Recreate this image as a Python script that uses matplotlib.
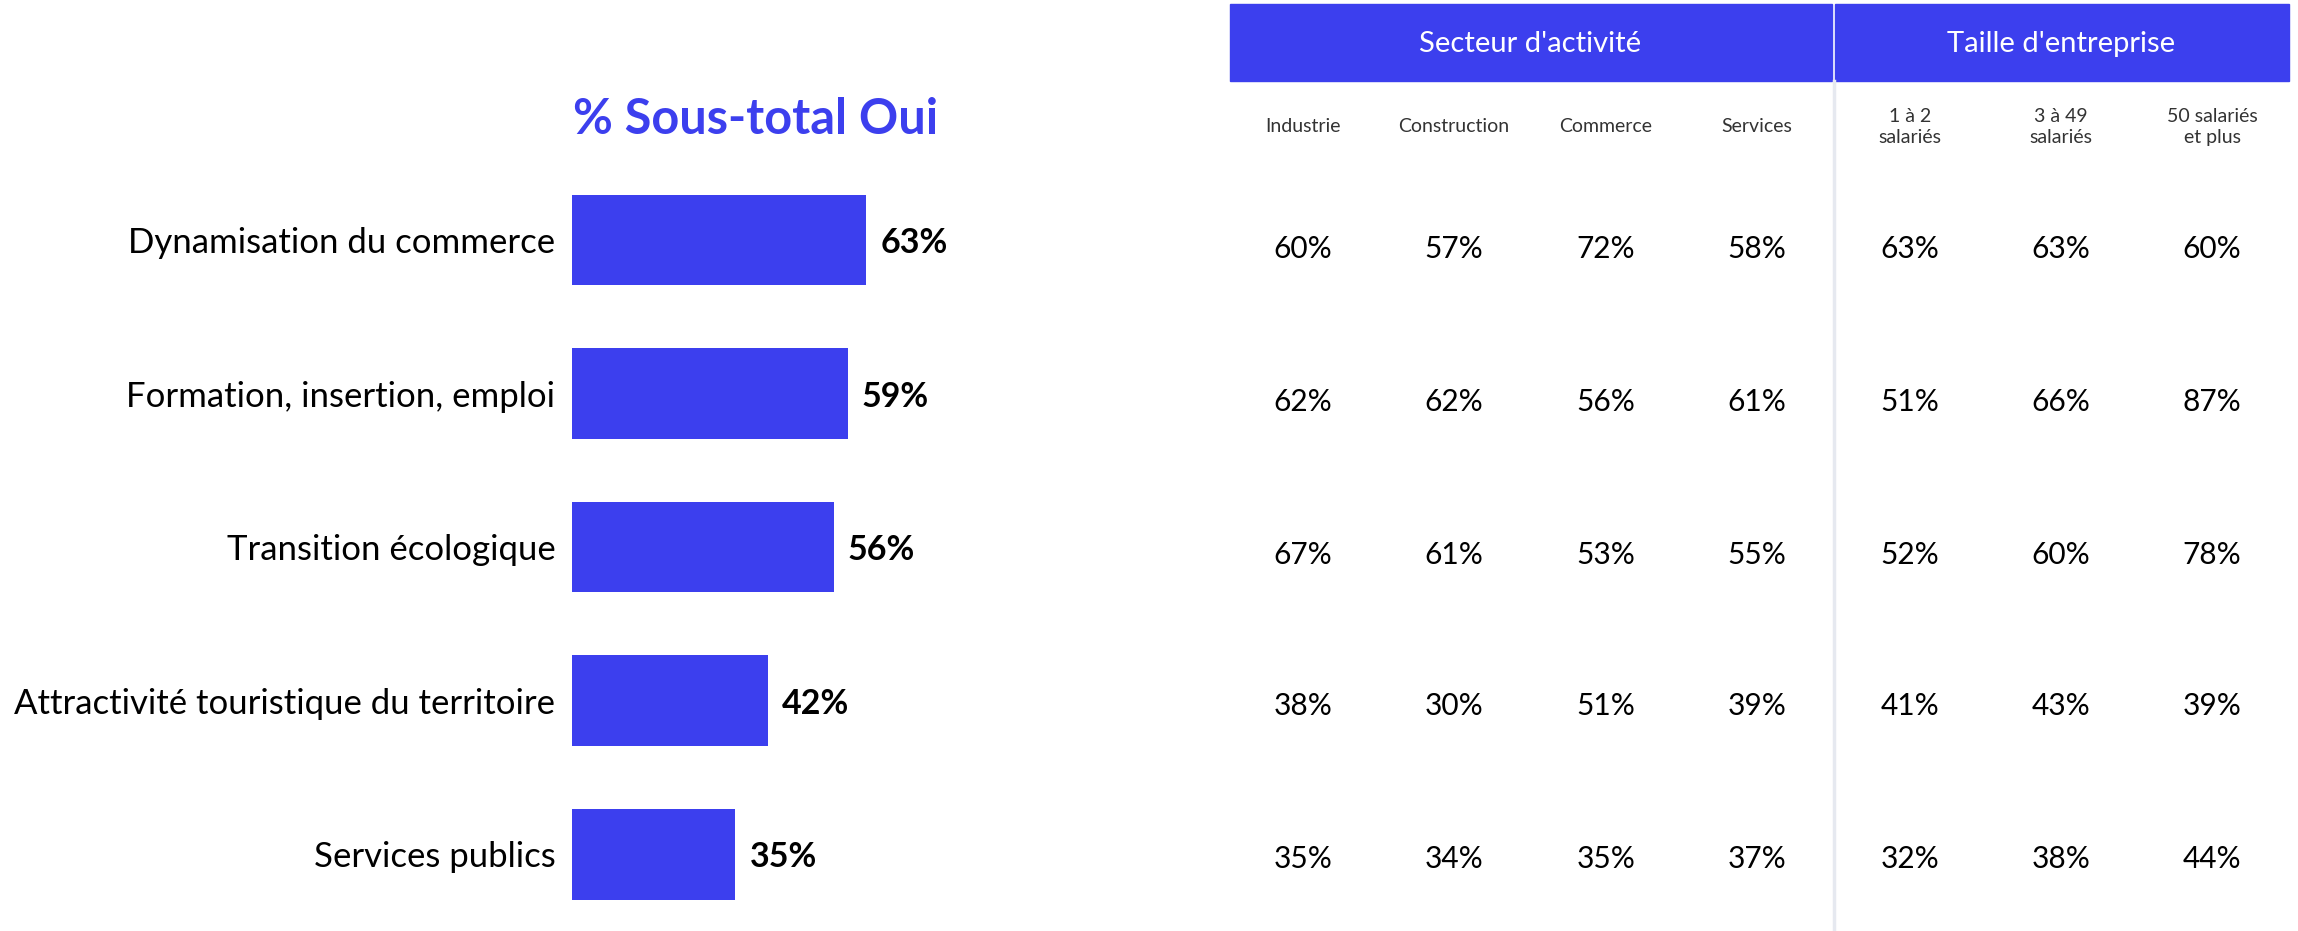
import matplotlib
matplotlib.use("Agg")
import matplotlib.pyplot as plt
from matplotlib.patches import Rectangle
from matplotlib.lines import Line2D

plt.rcParams['font.family'] = ['Lato', 'DejaVu Sans']

categories = ["Dynamisation du commerce", "Formation, insertion, emploi",
              "Transition écologique", "Attractivité touristique du territoire",
              "Services publics"]
sous_total_oui = [63, 59, 56, 42, 35]

group_titles = ["Secteur d'activité", "Taille d'entreprise"]
column_labels = ["Industrie", "Construction", "Commerce", "Services",
                 "1 à 2\nsalariés", "3 à 49\nsalariés", "50 salariés\net plus"]
industrie = [60, 62, 67, 38, 35]
construction = [57, 62, 61, 30, 34]
commerce = [72, 56, 53, 51, 35]
services = [58, 61, 55, 39, 37]
sal_1_2 = [63, 51, 52, 41, 32]
sal_3_49 = [63, 66, 60, 43, 38]
sal_50_plus = [60, 87, 78, 39, 44]
table_columns = [industrie, construction, commerce, services, sal_1_2, sal_3_49, sal_50_plus]

W, H = 2298, 931
BLUE = "#3C3FEE"
fig = plt.figure(figsize=(W / 100, H / 100), dpi=100)

def fx(px):
    return px / W

def fy(py):
    return 1 - py / H

# --- bar chart ---
row0, step = 240, 153.5
ax_left, ax_right = 572, 1000
ax = fig.add_axes([fx(ax_left), 0, fx(ax_right) - fx(ax_left), fy(row0 - step / 2)])
ax.set_xlim(0, (ax_right - ax_left) / 4.67)
ax.set_ylim(len(categories) - 0.5, -0.5)
ypos = list(range(len(categories)))
ax.barh(ypos, sous_total_oui, height=0.59, color=BLUE)
for y, v in zip(ypos, sous_total_oui):
    ax.text(v + 3.0, y + 0.02, f"{v}%", va="center", ha="left", fontsize=24.5,
            fontweight="bold", color="black")
ax.set_yticks(ypos)
ax.set_yticklabels(categories, fontsize=25)
ax.tick_params(axis="y", length=0, pad=12)
ax.set_xticks([])
for s in ax.spines.values():
    s.set_visible(False)

fig.text(fx(756), fy(119), "% Sous-total Oui", ha="center", va="center",
         fontsize=35, fontweight="bold", color=BLUE)

# --- table headers ---
band_top, band_bot = 4, 81
fig.patches.append(Rectangle((fx(1230), fy(band_bot)), fx(1832) - fx(1230),
                             fy(band_top) - fy(band_bot), transform=fig.transFigure,
                             color=BLUE, zorder=1))
fig.patches.append(Rectangle((fx(1835), fy(band_bot)), fx(2289) - fx(1835),
                             fy(band_top) - fy(band_bot), transform=fig.transFigure,
                             color=BLUE, zorder=1))
fig.text(fx(1530), fy(44), group_titles[0], ha="center", va="center",
         fontsize=21, color="white")
fig.text(fx(2061), fy(44), group_titles[1], ha="center", va="center",
         fontsize=21, color="white")

fig.lines.append(Line2D([fx(1834), fx(1834)], [fy(band_bot), 0], transform=fig.transFigure,
                        color="#E6E9F0", linewidth=2.5))

col_x = [1303, 1454, 1606, 1757, 1910, 2061, 2212]
for x, lab in zip(col_x, column_labels):
    fig.text(fx(x), fy(127), lab, ha="center", va="center", fontsize=14,
             color="#333333", linespacing=1.3)

row_y = [249, 402, 555, 706, 859]
for x, col in zip(col_x, table_columns):
    for y, v in zip(row_y, col):
        fig.text(fx(x), fy(y), f"{v}%", ha="center", va="center", fontsize=21.5,
                 color="black")

fig.savefig("out.png", dpi=100)
